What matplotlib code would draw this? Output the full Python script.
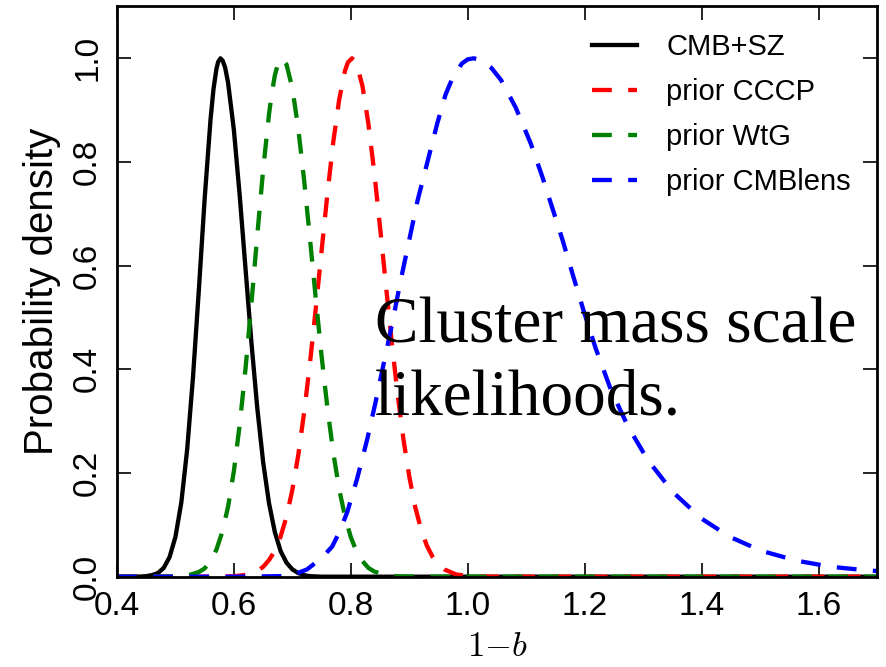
import numpy as np
import matplotlib
matplotlib.use('Agg')
from matplotlib import pyplot as plt

plt.rcParams['font.family'] = ['Liberation Sans', 'DejaVu Sans']
plt.rcParams['mathtext.fontset'] = 'cm'

# CMB+SZ likelihood
x_sz = [0.40, 0.44, 0.45, 0.46, 0.47, 0.48, 0.49, 0.50, 0.51, 0.52, 0.53, 0.54,
        0.55, 0.56, 0.565, 0.57, 0.573, 0.577, 0.581, 0.585, 0.59, 0.60, 0.61,
        0.62, 0.63, 0.64, 0.65, 0.66, 0.67, 0.68, 0.69, 0.70, 0.71, 0.72, 0.73,
        0.75, 1.70]
y_sz = [0.0, 0.0003, 0.001, 0.003, 0.007, 0.017, 0.038, 0.077, 0.143, 0.245,
        0.385, 0.553, 0.730, 0.882, 0.940, 0.979, 0.993, 1.0, 0.995, 0.982,
        0.953, 0.861, 0.734, 0.592, 0.451, 0.325, 0.221, 0.142, 0.086, 0.049,
        0.027, 0.014, 0.007, 0.003, 0.001, 0.0, 0.0]

# prior CCCP
x_cccp = [0.40, 0.58, 0.60, 0.62, 0.64, 0.65, 0.66, 0.67, 0.68, 0.69, 0.70,
          0.71, 0.72, 0.73, 0.74, 0.75, 0.76, 0.77, 0.78, 0.79, 0.795, 0.802,
          0.81, 0.82, 0.83, 0.84, 0.85, 0.86, 0.87, 0.88, 0.89, 0.90, 0.91,
          0.92, 0.93, 0.94, 0.95, 0.96, 0.98, 1.00, 1.02, 1.05, 1.70]
y_cccp = [0.0, 0.0002, 0.0009, 0.0034, 0.011, 0.019, 0.032, 0.050, 0.078,
          0.116, 0.168, 0.234, 0.316, 0.411, 0.517, 0.629, 0.739, 0.839, 0.920,
          0.976, 0.992, 1.0, 0.989, 0.946, 0.874, 0.781, 0.674, 0.562, 0.452,
          0.352, 0.265, 0.193, 0.135, 0.092, 0.060, 0.038, 0.023, 0.014, 0.0044,
          0.0012, 0.0003, 0.0, 0.0]

# prior WtG
x_wtg = [0.40, 0.50, 0.52, 0.54, 0.55, 0.56, 0.57, 0.58, 0.59, 0.60, 0.61,
         0.62, 0.63, 0.64, 0.65, 0.66, 0.665, 0.67, 0.675, 0.682, 0.69, 0.70,
         0.71, 0.72, 0.73, 0.74, 0.75, 0.76, 0.77, 0.78, 0.79, 0.80, 0.81,
         0.82, 0.83, 0.84, 0.86, 0.88, 0.90, 0.95, 1.70]
y_wtg = [0.0, 0.0004, 0.002, 0.009, 0.016, 0.030, 0.052, 0.086, 0.135, 0.204,
         0.294, 0.403, 0.528, 0.659, 0.785, 0.892, 0.934, 0.967, 0.988, 1.0,
         0.988, 0.942, 0.865, 0.766, 0.653, 0.537, 0.425, 0.325, 0.239, 0.169,
         0.116, 0.076, 0.048, 0.030, 0.017, 0.010, 0.003, 0.0008, 0.0002, 0.0,
         0.0]

# prior CMBlens
x_lens = [0.40, 0.60, 0.68, 0.70, 0.725, 0.75, 0.768, 0.78, 0.794, 0.811,
          0.828, 0.842, 0.856, 0.871, 0.885, 0.90, 0.914, 0.931, 0.948, 0.962,
          0.975, 0.99, 1.00, 1.01, 1.022, 1.04, 1.057, 1.082, 1.108, 1.128,
          1.145, 1.162, 1.179, 1.199, 1.219, 1.245, 1.274, 1.308, 1.351, 1.40,
          1.448, 1.502, 1.562, 1.622, 1.685, 1.70]
y_lens = [0.0, 0.0, 0.001, 0.003, 0.014, 0.036, 0.058, 0.085, 0.125, 0.19,
          0.265, 0.335, 0.41, 0.49, 0.57, 0.65, 0.725, 0.80, 0.875, 0.93,
          0.965, 0.99, 0.998, 1.0, 0.997, 0.982, 0.958, 0.905, 0.835, 0.77,
          0.71, 0.65, 0.585, 0.51, 0.44, 0.36, 0.29, 0.225, 0.163, 0.112,
          0.077, 0.050, 0.031, 0.019, 0.012, 0.011]

xticks = [0.4, 0.6, 0.8, 1.0, 1.2, 1.4, 1.6]
xticklabels = ['0.4', '0.6', '0.8', '1.0', '1.2', '1.4', '1.6']
yticks = [0.0, 0.2, 0.4, 0.6, 0.8, 1.0]
yticklabels = ['0.0', '0.2', '0.4', '0.6', '0.8', '1.0']

fig = plt.figure(figsize=(8.87, 6.67), dpi=100)
ax = fig.add_axes([0.1319, 0.1354, 0.8568, 0.8549])

dash = (4.6, 3.8)
ax.plot(x_sz, y_sz, color='k', lw=3.1, label='CMB+SZ')
ax.plot(x_cccp, y_cccp, color='r', lw=3.1, dashes=dash, label='prior CCCP')
ax.plot(x_wtg, y_wtg, color='g', lw=3.1, dashes=dash, label='prior WtG')
ax.plot(x_lens, y_lens, color='b', lw=3.1, dashes=dash, label='prior CMBlens')

ax.set_xlim(0.4, 1.7)
ax.set_ylim(0.0, 1.1)
ax.set_xticks(xticks)
ax.set_xticklabels(xticklabels)
ax.set_yticks(yticks)
ax.set_yticklabels(yticklabels, rotation=90, va='center')
ax.tick_params(direction='in', length=10, width=1.2, top=True, right=True,
               labelsize=24, pad=10)
for s in ax.spines.values():
    s.set_linewidth(2)

ax.set_ylabel('Probability density', fontsize=29, labelpad=8)
ax.set_xlabel(r'$1{-}b$', fontsize=25, labelpad=6)

ax.legend(loc='upper right', frameon=False, fontsize=21, handlelength=1.55,
          handletextpad=1.0, labelspacing=0.59)

fig.text(0.423, 0.555, 'Cluster mass scale\nlikelihoods.', fontsize=47,
         family='Liberation Serif', va='top', ha='left', linespacing=1.27)

fig.savefig('out.png', dpi=100)
